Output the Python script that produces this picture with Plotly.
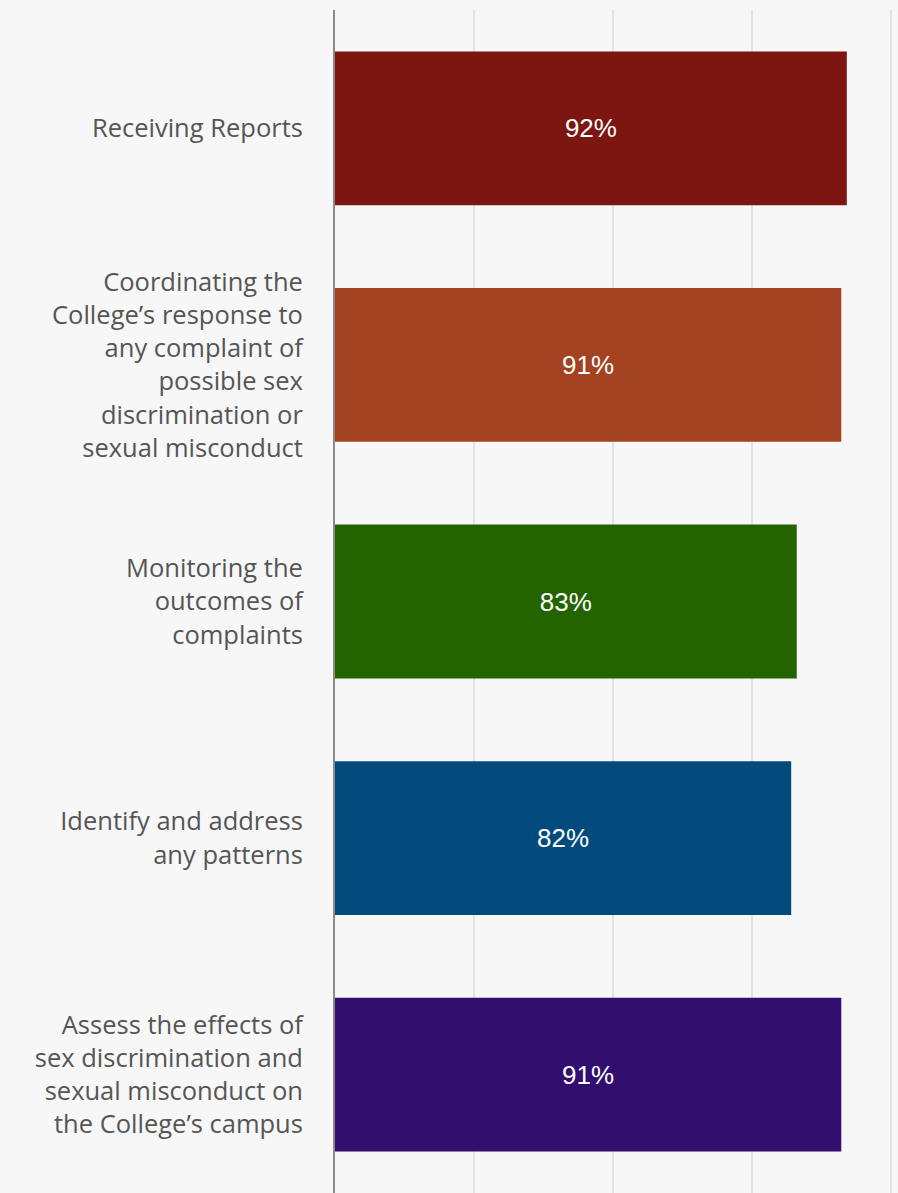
import plotly.graph_objects as go

# Survey results: share of respondents per Title IX responsibility
categories = [
    "Receiving Reports",
    "Coordinating the<br>College’s response to<br>any complaint of<br>possible sex<br>discrimination or<br>sexual misconduct",
    "Monitoring the<br>outcomes of<br>complaints",
    "Identify and address<br>any patterns",
    "Assess the effects of<br>sex discrimination and<br>sexual misconduct on<br>the College’s campus",
]
values = [92, 91, 83, 82, 91]
value_labels = ["92%", "91%", "83%", "82%", "91%"]
bar_colors = ["#7d1610", "#a34321", "#236400", "#004a7c", "#320e6e"]

fig = go.Figure(
    go.Bar(
        x=values,
        y=categories,
        orientation="h",
        marker=dict(color=bar_colors, line=dict(width=0)),
        text=value_labels,
        textposition="inside",
        insidetextanchor="middle",
        textfont=dict(family="Liberation Sans, Arial, sans-serif", size=26, color="#ffffff"),
        hoverinfo="skip",
    )
)

fig.update_layout(
    width=898,
    height=1193,
    margin=dict(l=335, r=0, t=10, b=0),
    paper_bgcolor="#f7f7f7",
    plot_bgcolor="#f7f7f7",
    bargap=0.35,
    showlegend=False,
)

fig.update_xaxes(
    range=[0, 101.2],
    tickvals=[25, 50, 75, 100],
    showticklabels=False,
    showgrid=True,
    gridcolor="#e3e3e3",
    gridwidth=2,
    zeroline=False,
    showline=False,
    fixedrange=True,
)

fig.update_yaxes(
    autorange="reversed",
    showline=True,
    linecolor="#8a8a8a",
    linewidth=2,
    showgrid=False,
    ticks="outside",
    ticklen=0,
    ticklabelstandoff=25,
    tickfont=dict(family="Open Sans, sans-serif", size=25.5, color="#555555"),
    fixedrange=True,
)

fig.write_html("out.html")
